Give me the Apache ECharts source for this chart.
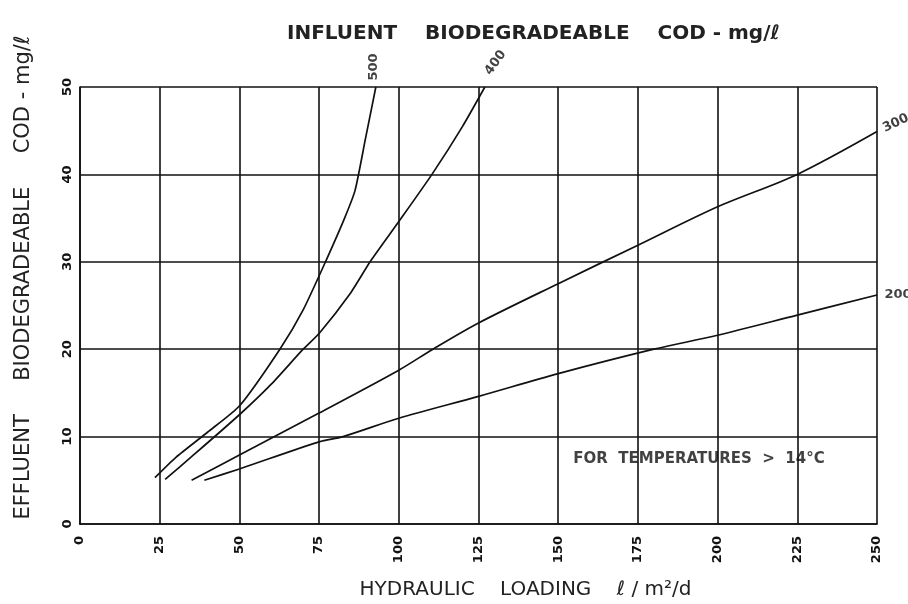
<!DOCTYPE html>
<html><head><meta charset="utf-8">
<script src="https://cdn.jsdelivr.net/npm/echarts@6/dist/echarts.min.js"></script>
<style>html,body{margin:0;padding:0;background:#fff}#c{width:908px;height:604px}</style>
</head><body><div id="c"></div>
<script>
const xTicks = [0,25,50,75,100,125,150,175,200,225,250];
const yTicks = [0,10,20,30,40,50];
const curveNames = ['500','400','300','200'];
const c500x = [23.5,30,40,50,62.7,70,77,83,86.3,89.5,92.8];
const c500y = [5.3,7.6,10.5,13.5,20,24.5,30,35,38.2,44,50];
const c400x = [26.7,35,50,60,70,75,85,91,100.4,110.4,120,127];
const c400y = [5.1,7.7,12.5,16,20,21.8,26.5,30,34.8,40,45.5,50];
const c300x = [35,50,75,100,110.7,125,150,175,200,225,250];
const c300y = [5.0,7.9,12.7,17.6,20,23,27.5,31.9,36.3,40,44.9];
const c200x = [39,50,75,82.5,100,125,150,180,200,225,250];
const c200y = [5.0,6.3,9.4,10,12.1,14.6,17.2,20,21.6,23.9,26.2];
const note = 'FOR  TEMPERATURES  >  14°C';
const noteAt = [153, 7.4];

const FONT = '"DejaVu Sans",sans-serif';
const labelCfg = [
  {position:'top', rotate:90, offset:[1,-2], align:'left', verticalAlign:'middle'},
  {position:'top', rotate:55, offset:[8,-2], align:'left', verticalAlign:'middle'},
  {position:'right', rotate:25, offset:[2,-2]},
  {position:'right', rotate:0, offset:[2,0]}
];
const xs = [c500x,c400x,c300x,c200x], ys=[c500y,c400y,c300y,c200y];
function mk(i){
  const d = xs[i].map((x,k)=>[x, ys[i][k]]);
  return {type:'line', data:d, smooth:i>1?0.3:0.2, showSymbol:false, symbol:'none', lineStyle:{color:'#111', width:1.7}, z:3, animation:false};
}
function lab(i){
  const n = xs[i].length-1;
  return {type:'scatter', data:[[xs[i][n], ys[i][n]]], symbolSize:1, itemStyle:{color:'rgba(0,0,0,0)'}, silent:true, clip:false, z:4,
    label:Object.assign({show:true, formatter:curveNames[i], color:'#111', fontSize:13, fontWeight:'bold', fontFamily:FONT}, labelCfg[i])};
}
const chart = echarts.init(document.getElementById('c'), null, {renderer:'canvas'});
chart.setOption({
  animation:false,
  backgroundColor:'#fff',
  title:{text:'INFLUENT    BIODEGRADEABLE    COD - mg/ℓ', left:282, top:19,
    textStyle:{fontFamily:FONT, fontSize:20, fontWeight:'bold', color:'#222'}},
  grid:{left:80, right:31, top:87, bottom:80, outerBoundsMode:'none', containLabel:false},
  xAxis:{type:'value', min:0, max:250, interval:25,
    name:'HYDRAULIC    LOADING    ℓ / m²/d', nameLocation:'middle', nameGap:56,
    nameTextStyle:{fontFamily:FONT, fontSize:20, color:'#222', padding:[0,0,0,94]},
    axisLine:{show:true, lineStyle:{color:'#111', width:1.7}},
    axisTick:{show:false},
    axisLabel:{rotate:90, color:'#111', fontFamily:FONT, fontSize:13, fontWeight:'bold', margin:12},
    splitLine:{show:true, lineStyle:{color:'#111', width:1.6}}},
  yAxis:{type:'value', min:0, max:50, interval:10,
    name:'EFFLUENT     BIODEGRADEABLE     COD - mg/ℓ', nameLocation:'middle', nameGap:46, nameRotate:90,
    nameTextStyle:{fontFamily:FONT, fontSize:21, color:'#222', padding:[0,0,0,56]},
    axisLine:{show:true, lineStyle:{color:'#111', width:1.7}},
    axisTick:{show:false},
    axisLabel:{rotate:90, color:'#111', fontFamily:FONT, fontSize:13, fontWeight:'bold', margin:6},
    splitLine:{show:true, lineStyle:{color:'#111', width:1.6}}},
  series:[mk(0), mk(1), mk(2), mk(3), lab(0), lab(1), lab(2), lab(3),
    {type:'scatter', data:[noteAt], symbolSize:1, itemStyle:{color:'rgba(0,0,0,0)'}, silent:true,
     label:{show:true, formatter:note, position:'right', color:'#111', fontFamily:FONT, fontSize:15, fontWeight:'bold'}}]
});
</script></body></html>
